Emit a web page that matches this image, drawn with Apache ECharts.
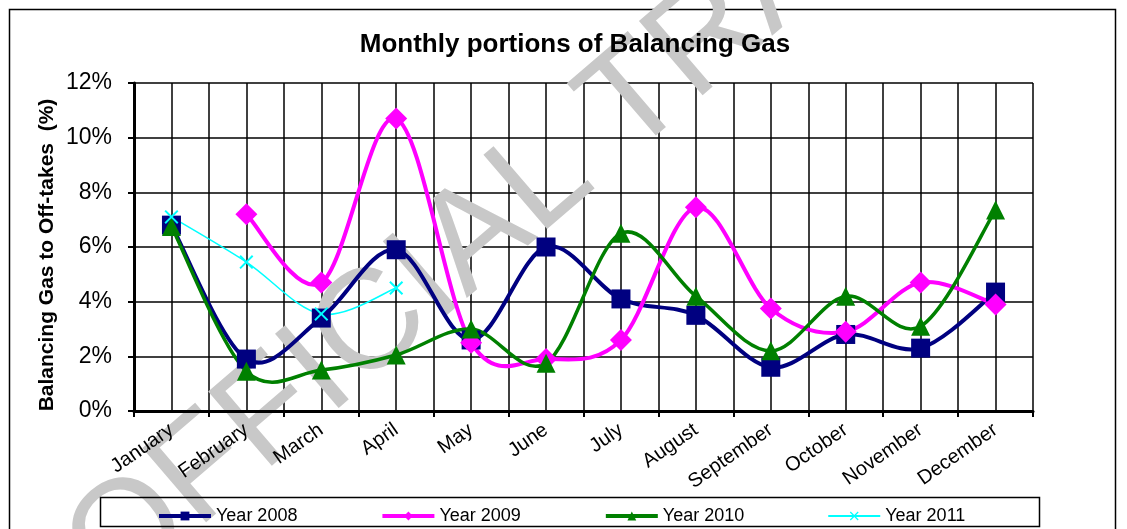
<!DOCTYPE html>
<html>
<head>
<meta charset="utf-8">
<script src="https://cdn.jsdelivr.net/npm/echarts@6/dist/echarts.min.js"></script>
<style>html,body{margin:0;padding:0;background:#fff;}#c{width:1127px;height:529px;}</style>
</head>
<body>
<div id="c"></div>
<script>
const months = ['January','February','March','April','May','June','July','August','September','October','November','December'];
const yTicks = [0, 2, 4, 6, 8, 10, 12];
const year2008 = [6.8, 1.9, 3.4, 5.9, 2.6, 6.0, 4.1, 3.5, 1.6, 2.8, 2.3, 4.35];
const year2009 = [null, 7.2, 4.7, 10.7, 2.5, 1.9, 2.6, 7.45, 3.75, 2.9, 4.7, 3.9];
const year2010 = [6.75, 1.45, 1.5, 2.05, 3.0, 1.75, 6.5, 4.2, 2.2, 4.2, 3.1, 7.35];
const year2011 = [7.1, 5.45, 3.55, 4.5, null, null, null, null, null, null, null, null];
const seriesNames = ['Year 2008', 'Year 2009', 'Year 2010', 'Year 2011'];
const seriesColors = ['#000080', '#FF00FF', '#008000', '#00FFFF'];

const FONT = 'Arial, "Liberation Sans", sans-serif';
const chart = echarts.init(document.getElementById('c'), null, {renderer: 'canvas'});
const xMark = 'path://M0,1L1,0L5,4L9,0L10,1L6,5L10,9L9,10L5,6L1,10L0,9L4,5Z';

// Markers (and legend entry) through a normal line series; curve drawn by custom series
function markerSeries(name, data, color, symbol, size) {
  return {
    name: name, type: 'line', data: data, smooth: false, z: 6,
    symbol: symbol, symbolSize: size, showSymbol: true,
    lineStyle: {color: color, width: 0, opacity: 0},
    itemStyle: {color: color},
    emphasis: {disabled: true}
  };
}
// Excel-like smoothed line (Catmull-Rom bezier) positioned through the axes' scales
function curveSeries(name, arr, color, width) {
  return {
    name: name, type: 'custom', z: 4, silent: true,
    data: arr.map(function (v, i) { return [i, v]; }),
    encode: {x: 0, y: 1},
    renderItem: function (params, api) {
      const i = params.dataIndex;
      if (arr[i] == null || arr[i + 1] == null) return null;
      const p = function (k) { return api.coord([k, arr[k]]); };
      const p0 = p(i), p1 = p(i + 1);
      const pm = (i > 0 && arr[i - 1] != null) ? p(i - 1) : p0;
      const pn = (arr[i + 2] != null) ? p(i + 2) : p1;
      return {
        type: 'bezierCurve',
        shape: {
          x1: p0[0], y1: p0[1], x2: p1[0], y2: p1[1],
          cpx1: p0[0] + (p1[0] - pm[0]) / 6, cpy1: p0[1] + (p1[1] - pm[1]) / 6,
          cpx2: p1[0] - (pn[0] - p0[0]) / 6, cpy2: p1[1] - (pn[1] - p0[1]) / 6
        },
        style: {stroke: color, lineWidth: width, fill: null}
      };
    }
  };
}

chart.setOption({
  animation: false,
  backgroundColor: '#fff',
  grid: {left: 134, top: 83, right: 94, bottom: 118, containLabel: false},
  xAxis: [{
    type: 'category', data: months, boundaryGap: true, z: 3,
    axisLine: {lineStyle: {color: '#000', width: 3}},
    axisTick: {show: true, length: 6, lineStyle: {color: '#000', width: 2}},
    axisLabel: {rotate: 35, margin: 17, fontSize: 20, color: '#000', fontFamily: FONT, interval: 0},
    splitLine: {show: false}
  }, {
    type: 'value', min: 0, max: 24, interval: 1, z: 0,
    axisLine: {show: false}, axisTick: {show: false}, axisLabel: {show: false},
    splitLine: {show: true, lineStyle: {color: '#000', width: 1.5}}
  }],
  yAxis: [{
    type: 'value', min: 0, max: 12, interval: 2, z: 0,
    axisLine: {show: true, lineStyle: {color: '#000', width: 3}},
    axisTick: {show: true, length: 6, lineStyle: {color: '#000', width: 2}},
    axisLabel: {margin: 22, fontSize: 23, color: '#000', fontFamily: FONT,
      formatter: function (v) { return v + '%'; }},
    splitLine: {show: true, lineStyle: {color: '#000', width: 1.5}}
  }],
  legend: {
    data: seriesNames.map(function (n, k) {
      return {name: n, lineStyle: {color: seriesColors[k], width: k === 3 ? 2 : 4, opacity: 1}};
    }),
    left: 152, top: 502, orient: 'horizontal',
    itemWidth: 52, itemHeight: 11, itemGap: 83,
    textStyle: {fontSize: 18, color: '#000', fontFamily: FONT}
  },
  graphic: [
    {type: 'rect', shape: {x: 9.5, y: 9.5, width: 1106, height: 540}, style: {fill: 'none', stroke: '#000', lineWidth: 1.5}, z: -10, silent: true},
    {type: 'text', x: 575, y: 45, z: 10, silent: true,
      style: {text: 'Monthly portions of Balancing Gas', font: 'bold 26px ' + FONT, fill: '#000', textAlign: 'center', textVerticalAlign: 'middle'}},
    {type: 'text', x: 47, y: 255, rotation: Math.PI / 2, z: 10, silent: true,
      style: {text: 'Balancing Gas to Off-takes  (%)', font: 'bold 21px ' + FONT, fill: '#000', textAlign: 'center', textVerticalAlign: 'middle'}},
    {type: 'rect', shape: {x: 100.5, y: 497.5, width: 939, height: 29}, style: {fill: 'none', stroke: '#000', lineWidth: 1.5}, z: 10, silent: true},
    {type: 'text', x: 88, y: 572, rotation: 0.71, z: 1, silent: true,
      style: {text: 'OFFICIAL TRANSLATION', font: '142px ' + FONT, fill: '#c8c8c8', textAlign: 'left', textVerticalAlign: 'middle'}}
  ],
  series: [
    curveSeries('c2008', year2008, seriesColors[0], 4),
    curveSeries('c2009', year2009, seriesColors[1], 4),
    curveSeries('c2010', year2010, seriesColors[2], 3.5),
    curveSeries('c2011', year2011, seriesColors[3], 1.5),
    markerSeries(seriesNames[0], year2008, seriesColors[0], 'rect', 19),
    markerSeries(seriesNames[1], year2009, seriesColors[1], 'diamond', 22),
    markerSeries(seriesNames[2], year2010, seriesColors[2], 'triangle', 19),
    markerSeries(seriesNames[3], year2011, seriesColors[3], xMark, 14)
  ]
});
</script>
</body>
</html>
